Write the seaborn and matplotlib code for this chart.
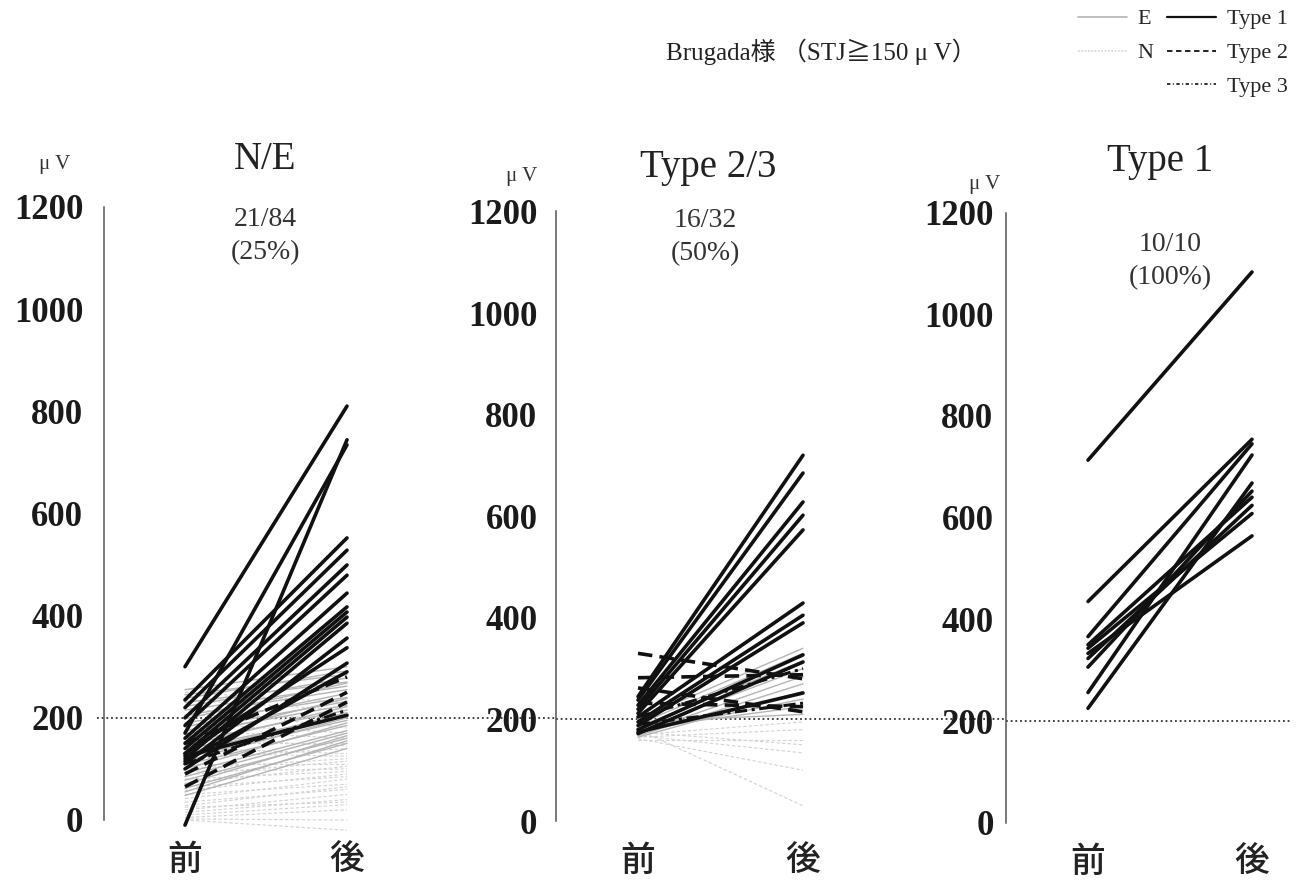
import matplotlib
matplotlib.use("Agg")
import pandas as pd
import matplotlib.pyplot as plt
from matplotlib.lines import Line2D
import seaborn as sns

W, H = 1297, 889

# ---- N/E panel (pre / post STJ amplitude, uV) ----
NE_T1_PRE = [300, -10, 170, 235, 220, 200, 185, 160, 150, 140, 130, 120, 110, 130, 100, 115, 125]
NE_T1_POST = [810, 744, 734, 552, 528, 499, 479, 444, 417, 407, 397, 385, 356, 337, 307, 290, 205]
NE_T2_PRE = [65, 90, 150]
NE_T2_POST = [231, 250, 280]
NE_T3_PRE = [110]
NE_T3_POST = [215]
NE_E_PRE = [255, 245, 238, 230, 222, 215, 205, 198, 190, 182, 175, 168, 160, 152,
            145, 138, 130, 122, 115, 108, 100, 92, 85, 78, 70, 62, 55, 48]
NE_E_POST = [300, 285, 292, 270, 278, 262, 255, 268, 240, 248, 232, 225, 238, 215,
             222, 205, 210, 195, 200, 185, 190, 175, 170, 160, 165, 150, 155, 140]
NE_N_PRE = [250, 235, 220, 205, 190, 175, 160, 150, 140, 130, 120, 110, 100, 95, 88,
            80, 72, 65, 58, 50, 42, 35, 28, 20, 15, 10, 5, 2, 0, 25]
NE_N_POST = [230, 215, 180, 200, 170, 160, 145, 150, 130, 125, 140, 110, 120, 100, 115,
             95, 105, 85, 90, 70, 80, 60, 65, 50, 40, 30, 20, 0, -20, 35]

# ---- Type 2/3 panel ----
T23_T1_PRE = [245, 238, 228, 220, 212, 205, 195, 188, 180, 172, 175]
T23_T1_POST = [720, 685, 628, 602, 573, 429, 405, 390, 327, 313, 252]
T23_T2_PRE = [330, 282, 262, 232]
T23_T2_POST = [280, 288, 215, 225]
T23_T3_PRE = [205, 190]
T23_T3_POST = [300, 232]
T23_E_PRE = [200, 190, 185, 178, 172, 168, 165, 175, 182, 195]
T23_E_POST = [340, 330, 315, 300, 285, 270, 255, 240, 225, 210]
T23_N_PRE = [170, 165, 160, 175, 168, 162, 180]
T23_N_POST = [195, 180, 160, 150, 134, 100, 30]

# ---- Type 1 panel ----
T1_T1_PRE = [713, 435, 366, 350, 343, 333, 323, 306, 256, 225]
T1_T1_POST = [1083, 754, 745, 640, 608, 564, 624, 652, 723, 668]

TITLES = ["N/E", "Type 2/3", "Type 1"]
RATIOS = ["21/84\n(25%)", "16/32\n(50%)", "10/10\n(100%)"]
TIME_LABELS = ["前", "後"]
Y_TICKS = [0, 200, 400, 600, 800, 1000, 1200]
THRESHOLD = 200

KIND_ORDER = ["N", "E", "Type 3", "Type 2", "Type 1"]
PALETTE = {"N": "#d2d2d2", "E": "#b4b4b4", "Type 1": "#111111",
           "Type 2": "#111111", "Type 3": "#111111"}
DASHES = {"N": (3, 2), "E": "", "Type 1": "", "Type 2": (4, 2), "Type 3": (4, 1.5, 1, 1.5)}
WIDTHS = {"N": 0.8, "E": 1.0, "Type 1": 2.6, "Type 2": 2.6, "Type 3": 2.2}

SERIF = ["Liberation Serif", "Noto Sans CJK JP"]
CJK = ["Noto Sans CJK JP", "DejaVu Sans"]


def make_panel_df(groups):
    """Long table: one row per (subject, time point)."""
    rows = []
    uid = 0
    for kind, pre, post in groups:
        for a, b in zip(pre, post):
            rows.append((uid, 0, a, kind))
            rows.append((uid, 1, b, kind))
            uid += 1
    return pd.DataFrame(rows, columns=["id", "time", "value", "kind"])


panels = [
    make_panel_df([("N", NE_N_PRE, NE_N_POST), ("E", NE_E_PRE, NE_E_POST),
                   ("Type 3", NE_T3_PRE, NE_T3_POST), ("Type 2", NE_T2_PRE, NE_T2_POST),
                   ("Type 1", NE_T1_PRE, NE_T1_POST)]),
    make_panel_df([("N", T23_N_PRE, T23_N_POST), ("E", T23_E_PRE, T23_E_POST),
                   ("Type 3", T23_T3_PRE, T23_T3_POST), ("Type 2", T23_T2_PRE, T23_T2_POST),
                   ("Type 1", T23_T1_PRE, T23_T1_POST)]),
    make_panel_df([("Type 1", T1_T1_PRE, T1_T1_POST)]),
]

# axes geometry in pixels: left, width, y of 0 uV, px per uV
AX_PX = [(104, 283.5, 820.0, 0.511),
         (555.5, 288.75, 821.0, 0.508),
         (1006, 287.0, 822.7, 0.5085)]
TICK_PAD = [10, 8, 4]
TITLE_POS = [(265, 160), (708, 167), (1160, 161)]
RATIO_POS = [(265, 236), (705, 237), (1170, 261)]
UV_POS = [(55, 164), (522, 176), (985, 184)]

sns.set_style("white")
plt.rcParams["font.family"] = SERIF
plt.rcParams["axes.unicode_minus"] = False

fig = plt.figure(figsize=(W / 100, H / 100), dpi=100)
YMIN = -40

axes = []
for i, df in enumerate(panels):
    left, width, y0, k = AX_PX[i]
    bottom_px = y0 - YMIN * k
    top_px = y0 - 1200 * k
    ax = fig.add_axes([left / W, (H - bottom_px) / H, width / W, (bottom_px - top_px) / H])
    axes.append(ax)

    order = [kd for kd in KIND_ORDER if kd in set(df["kind"])]
    sns.lineplot(data=df, x="time", y="value", units="id", estimator=None,
                 hue="kind", style="kind", size="kind",
                 hue_order=order, style_order=order, size_order=order,
                 palette=PALETTE, dashes=DASHES, sizes=WIDTHS,
                 legend=False, ax=ax)
    for ln in ax.lines:
        ln.set_solid_capstyle("round")
        ln.set_dash_capstyle("butt")
        ln.set_clip_on(False)

    ax.set_xlim(-0.5, 1.25)
    ax.set_ylim(YMIN, 1200)
    ax.set_xticks([0, 1])
    ax.set_xticklabels(TIME_LABELS, fontsize=25, family=CJK, fontweight="medium",
                       color="#222222")
    ax.set_yticks(Y_TICKS)
    ax.set_yticklabels([str(t) for t in Y_TICKS], fontsize=25, fontweight="bold",
                       color="#1a1a1a")
    ax.tick_params(axis="x", length=0, pad=1)
    ax.tick_params(axis="y", direction="out", length=5, width=1.1, color="#555555",
                   pad=TICK_PAD[i])
    ax.set_xlabel("")
    ax.set_ylabel("")
    for side in ["top", "right", "bottom"]:
        ax.spines[side].set_visible(False)
    ax.spines["left"].set_bounds(0, 1200)
    ax.spines["left"].set_color("#555555")
    ax.spines["left"].set_linewidth(1.1)
    ax.patch.set_alpha(0)

    fig.text(TITLE_POS[i][0] / W, 1 - TITLE_POS[i][1] / H, TITLES[i],
             ha="center", va="center", fontsize=28, color="#222222")
    fig.text(RATIO_POS[i][0] / W, 1 - RATIO_POS[i][1] / H, RATIOS[i],
             ha="center", va="center", fontsize=20, linespacing=1.4, color="#333333")
    fig.text(UV_POS[i][0] / W, 1 - UV_POS[i][1] / H, "μ V",
             ha="center", va="center", fontsize=15, color="#333333")

# dotted threshold line running across all panels
for i, ax in enumerate(axes):
    pos = ax.get_position()
    start = -0.025 if i == 0 else 0.0
    end_x = axes[i + 1].get_position().x0 if i + 1 < len(axes) else 1292 / W
    xmax = (end_x - pos.x0) / pos.width
    ax.axhline(THRESHOLD, xmin=start, xmax=xmax, color="#333333", lw=1.3,
               linestyle=(0, (1, 1.6)), clip_on=False, zorder=0.5)

fig.text(821 / W, 1 - 52 / H, "Brugada様 （STJ≧150 μ V）", ha="center", va="center",
         fontsize=18, color="#222222", family=SERIF)

handles = [
    Line2D([], [], color=PALETTE["E"], lw=1.2),
    Line2D([], [], color=PALETTE["N"], lw=1.2, linestyle=(0, (1, 1))),
    Line2D([], [], alpha=0),
    Line2D([], [], color="#111111", lw=1.6),
    Line2D([], [], color="#111111", lw=1.3, linestyle=(0, (3, 2))),
    Line2D([], [], color="#111111", lw=1.2, linestyle=(0, (2, 1.5, 0.6, 1.5))),
]
labels = ["E", "N", "", "Type 1", "Type 2", "Type 3"]
fig.legend(handles, labels, ncol=2, loc="upper right", bbox_to_anchor=(1.0, 1.0),
           frameon=False, fontsize=16, handlelength=2.2, handletextpad=0.5,
           columnspacing=0.6, labelspacing=0.6, borderpad=0.2, borderaxespad=0.2)

fig.savefig("out.png", dpi=100, facecolor="white")
